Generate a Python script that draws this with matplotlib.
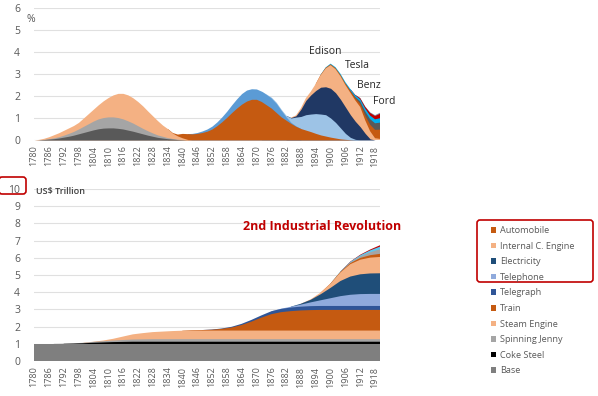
import numpy as np
import matplotlib.pyplot as plt
from matplotlib.patches import FancyBboxPatch, Patch

plt.rcParams['font.family'] = ['Open Sans', 'DejaVu Sans']

# growth rate of each technology, % (top chart), one value every 2 years
yrs_g = np.arange(1780, 1921, 2)
coke_g = (1782, [.01, .02, .04, .06, .09, .13, .17, .22, .28, .34, .40, .46, .51, .54, .55, .55, .53, .50,
                 .45, .40, .34, .28, .22, .17, .12, .09, .06, .04, .02, .01])
jenny_g = (1784, [.01, .02, .04, .06, .09, .13, .17, .22, .28, .34, .40, .45, .48, .50, .50, .49, .46, .42,
                  .37, .31, .25, .20, .15, .11, .08, .05, .03, .02, .01])
steam_g = (1782, [.02, .05, .09, .14, .18, .22, .25, .27, .30, .38, .46, .54, .64, .76, .88, 1.0, 1.10, 1.16,
                  1.18, 1.15, 1.10, 1.02, .90, .78, .65, .51, .41, .25, .15, .08, .03])
train_g = (1836, [.02, .08, .20, .26, .28, .30, .34, .40, .50, .65, .83, 1.03, 1.25, 1.45, 1.63, 1.77, 1.85,
                  1.85, 1.75, 1.60, 1.45, 1.25, 1.05, .90, .75, .62, .52, .45, .38, .30, .23, .18, .13, .09,
                  .05, .03, .01])
telegraph_g = (1844, [.02, .04, .07, .10, .13, .17, .22, .28, .35, .42, .48, .50, .48, .47, .47, .47, .46,
                      .42, .30, .15, .05, .02])
telephone_g = (1874, [.02, .04, .05, .05, .07, .20, .40, .55, .70, .80, .90, .95, .97, .87, .71, .50, .27,
                      .11, .03])
electricity_g = (1884, [.02, .06, .33, .65, .87, 1.05, 1.22, 1.27, 1.35, 1.35, 1.30, 1.20, 1.03, .82, .60,
                        .30, .05])
engine_g = (1886, [.02, .05, .10, .15, .30, .55, .83, 1.05, 1.07, 1.05, 1.0, 1.0, .95, .90, .60, .35, .08, .05])
auto_g = (1896, [.02, .03, .04, .05, .06, .07, .08, .10, .15, .22, .30, .38, .42])
dgray_g = (1908, [.02, .05, .10, .18, .25, .30, .32])
cyan_g = (1898, [.02, .03, .04, .05, .06, .07, .08, .10, .13, .16, .18, .20])
red_g = (1910, [.02, .05, .08, .12, .15, .20])
slate_g = (1912, [.01, .02, .03, .04, .05])

# cumulative level, US$ trillion (bottom chart), one value every 4 years
yrs_l = np.arange(1780, 1921, 4)
base_l = (1780, [1, 1, 1, 1, 1, 1, 1, 1, 1, 1, 1, 1, 1, 1, 1, 1, 1, 1,
                 1, 1, 1, 1, 1, 1, 1, 1, 1, 1, 1, 1, 1, 1, 1, 1, 1, 1])
coke_l = (1796, [.01, .03, .06, .08, .10, .11, .12, .12, .12, .12, .12, .12, .12, .12, .12, .12,
                 .12, .12, .12, .12, .12, .12, .12, .12, .12, .12, .12, .12, .12, .12, .12, .12])
jenny_l = (1792, [.01, .02, .03, .05, .07, .09, .11, .13, .14, .15, .15, .15, .15, .15, .15, .15, .15,
                  .15, .15, .15, .15, .15, .15, .15, .15, .15, .15, .15, .15, .15, .15, .15, .15])
steam_l = (1804, [.01, .04, .10, .20, .30, .36, .41, .44, .47, .49, .5, .5, .5, .5, .5, .5, .5, .5, .5, .5,
                  .5, .5, .5, .5, .5, .5, .5, .5, .5, .5])
train_l = (1844, [.02, .03, .05, .10, .18, .32, .52, .75, .95, 1.07, 1.13, 1.17, 1.19, 1.2, 1.2, 1.2, 1.2,
                  1.2, 1.2, 1.2])
telegraph_l = (1852, [.01, .02, .04, .07, .10, .13, .17, .19, .21, .22, .23, .23, .23, .23, .23, .23, .23, .23])
telephone_l = (1880, [.01, .05, .12, .22, .33, .45, .57, .65, .69, .70, .70])
electricity_l = (1888, [.05, .15, .35, .60, .88, 1.06, 1.15, 1.19, 1.20])
engine_l = (1892, [.03, .10, .25, .50, .72, .85, .92, .95])
auto_l = (1900, [.01, .03, .06, .10, .14, .18])
gray_l = (1904, [.01, .04, .09, .17, .27])
cyan_l = (1904, [.02, .04, .07, .11, .15])
red_l = (1908, [.01, .03, .05, .08])

legend_labels = ['Automobile', 'Internal C. Engine', 'Electricity', 'Telephone', 'Telegraph',
                 'Train', 'Steam Engine', 'Spinning Jenny', 'Coke Steel', 'Base']
legend_colors = ['#c55a11', '#f4b183', '#1f4e79', '#8faadc', '#2f5597',
                 '#c55a11', '#f4b183', '#a5a5a5', '#000000', '#7f7f7f']


def full(series, years):
    start, vals = series
    out = np.zeros(len(years))
    i = int(np.searchsorted(years, start))
    out[i:i + len(vals)] = vals
    return out


def stacked(ax, years, series, colors):
    # each layer filled from 0 up to its running total, top layer first, so no seams show;
    # only where the layer actually has some thickness (plus one neighbour each side)
    vals = [full(s, years) for s in series]
    tops = np.cumsum(vals, axis=0)
    for v, top, c in list(zip(vals, tops, colors))[::-1]:
        on = v > 0
        on = on | np.roll(on, 1) | np.roll(on, -1)
        ax.fill_between(years, 0, top, where=on, color=c, linewidth=0)


W, H = 598, 396
fig = plt.figure(figsize=(W / 100, H / 100), dpi=100)
ax1 = fig.add_axes([34 / W, 1 - 140 / H, 346 / W, 132 / H])
ax2 = fig.add_axes([34 / W, 1 - 361 / H, 346 / W, 172 / H])

stacked(ax1, yrs_g,
        [coke_g, jenny_g, steam_g, train_g, telegraph_g, telephone_g, electricity_g,
         engine_g, auto_g, dgray_g, cyan_g, red_g, slate_g],
        ['#595959', '#a5a5a5', '#f4b183', '#c55a11', '#5b9bd5', '#9dc3e6', '#203864',
         '#f4b183', '#c55a11', '#595959', '#00b0f0', '#c00000', '#8497b0'])

stacked(ax2, yrs_l,
        [base_l, coke_l, jenny_l, steam_l, train_l, telegraph_l, telephone_l, electricity_l,
         engine_l, auto_l, gray_l, cyan_l, red_l],
        ['#7f7f7f', '#000000', '#a5a5a5', '#f4b183', '#c55a11', '#2f5597', '#8faadc',
         '#1f4e79', '#f4b183', '#c55a11', '#a5a5a5', '#5bc8f0', '#c00000'])

for ax, ymax in [(ax1, 6), (ax2, 10)]:
    ax.set_xlim(1780, 1920)
    ax.set_ylim(0, ymax)
    ax.set_xticks(range(1780, 1919, 6))
    ax.set_yticks(range(0, ymax + 1))
    ax.tick_params(axis='x', length=0, pad=4, labelsize=6.5, labelrotation=90, colors='#595959')
    ax.tick_params(axis='y', length=0, pad=10, labelsize=7.5, colors='#595959')
    ax.grid(axis='y', color='#e0e0e0', linewidth=0.8)
    ax.set_axisbelow(True)
    for s in ax.spines.values():
        s.set_visible(False)


def px(x, y):
    return x / W, 1 - y / H


fig.text(*px(31, 19), '%', ha='center', va='center', fontsize=7.5, color='#595959')
fig.text(*px(36, 191.5), 'US$ Trillion', ha='left', va='center', fontsize=6.5,
         color='#404040', fontweight='semibold')
fig.text(*px(322, 226), '2nd Industrial Revolution', ha='center', va='center', fontsize=9,
         color='#c00000', fontweight='bold')
for name, x, y in [('Edison', 325, 51), ('Tesla', 357, 65), ('Benz', 369, 85), ('Ford', 384.5, 102)]:
    fig.text(*px(x, y), name, ha='center', va='center', fontsize=7.5, color='#262626')

handles = [Patch(facecolor=c, edgecolor='none') for c in legend_colors]
fig.legend(handles, legend_labels, loc='upper left', bbox_to_anchor=px(491, 226), frameon=False,
           fontsize=6.6, labelcolor='#595959', handlelength=0.55, handleheight=0.55,
           handletextpad=0.45, labelspacing=0.72, borderpad=0, borderaxespad=0)

for x0, y0, w, h in [(-1, 194, 27, 17), (477, 282, 116, 62)]:
    fig.add_artist(FancyBboxPatch((x0 / 100, (H - y0) / 100), w / 100, h / 100,
                                  boxstyle='round,pad=0,rounding_size=0.03',
                                  transform=fig.dpi_scale_trans, facecolor='none',
                                  edgecolor='#c00000', linewidth=1.2))

fig.savefig('out.png', dpi=100)
